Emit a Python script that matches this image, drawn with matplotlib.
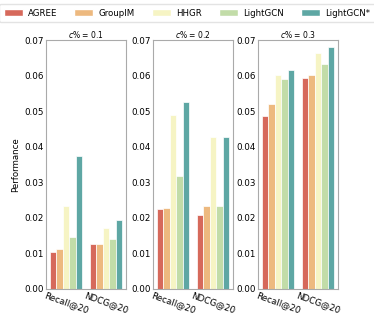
import matplotlib
matplotlib.use("Agg")
import matplotlib.pyplot as plt
import numpy as np
from matplotlib.patches import Patch

methods = ["AGREE", "GroupIM", "HHGR", "LightGCN", "LightGCN*"]
metrics = ["Recall@20", "NDCG@20"]
titles = ["$c$% = 0.1", "$c$% = 0.2", "$c$% = 0.3"]
colors = ["#d6695b", "#edb97f", "#f6f4c4", "#c2dca8", "#5ea7a4"]

p1_recall = [0.0104, 0.0112, 0.0234, 0.0146, 0.0375]
p1_ndcg = [0.0127, 0.0127, 0.0172, 0.0141, 0.0194]
p2_recall = [0.0224, 0.0229, 0.0489, 0.0318, 0.0526]
p2_ndcg = [0.0209, 0.0233, 0.0427, 0.0233, 0.0427]
p3_recall = [0.0485, 0.0520, 0.0602, 0.0589, 0.0616]
p3_ndcg = [0.0594, 0.0602, 0.0664, 0.0632, 0.0680]

panels = [(p1_recall, p1_ndcg), (p2_recall, p2_ndcg), (p3_recall, p3_ndcg)]

fig = plt.figure(figsize=(3.74, 3.25), dpi=100)
lefts = [46/374, 153/374, 258/374]
width = 80/374
bottom = 36/325
height = 249/325

bw = 0.8 / len(methods)
for i, (rec, ndcg) in enumerate(panels):
    ax = fig.add_axes([lefts[i], bottom, width, height])
    for j, m in enumerate(methods):
        xs = np.arange(len(metrics)) - 0.4 + bw * (j + 0.5)
        ax.bar(xs, [rec[j], ndcg[j]], width=bw, color=colors[j],
               edgecolor="white", linewidth=0.5)
    ax.set_xlim(-0.5, 1.5)
    ax.set_ylim(0, 0.07)
    ticks = np.arange(0, 0.0701, 0.01)
    ax.set_yticks(ticks)
    ax.set_yticklabels([f"{v:.2f}" for v in ticks], fontsize=6.3)
    ax.set_xticks(range(len(metrics)))
    ax.set_xticklabels(metrics, rotation=-20, ha="center", fontsize=6.3)
    ax.tick_params(length=0, pad=1.5)
    for s in ax.spines.values():
        s.set_color("#aaaaaa")
        s.set_linewidth(0.8)
    ax.set_title(titles[i], fontsize=5.5, pad=1.2)
    if i == 0:
        ax.set_ylabel("Performance", fontsize=6.2, labelpad=3)

handles = [Patch(facecolor=c, edgecolor="white") for c in colors]
fig.legend(handles, methods, ncol=5, loc="upper center", bbox_to_anchor=(0.5, 1.0),
           fontsize=6.2, frameon=True, handlelength=2.2, handleheight=0.9,
           columnspacing=2.0, handletextpad=0.6, borderpad=0.5,
           edgecolor="#dddddd", fancybox=True)

fig.savefig("out.png", dpi=100)
